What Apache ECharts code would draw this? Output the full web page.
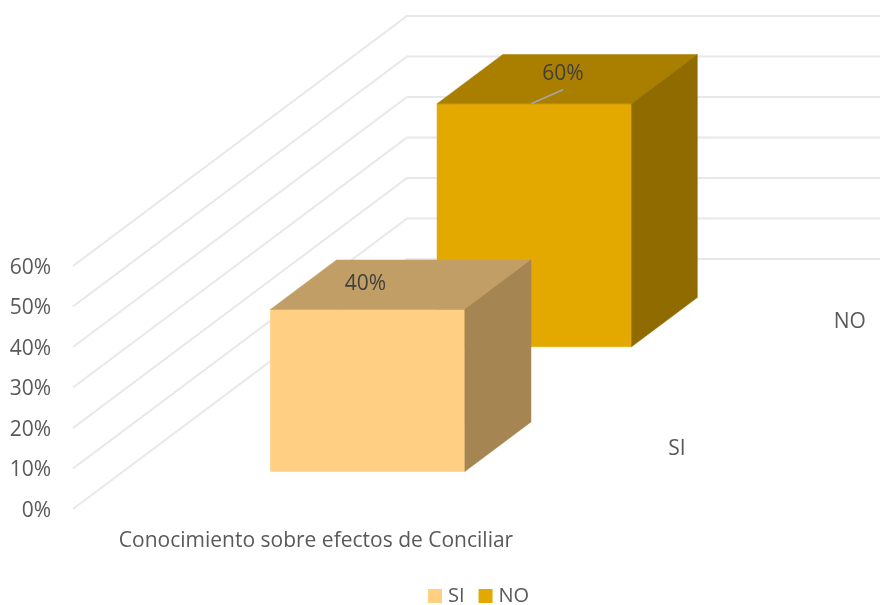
<!DOCTYPE html>
<html>
<head>
<meta charset="utf-8">
<style>html,body{margin:0;padding:0;background:#fff}#c{width:880px;height:605px}</style>
<script src="https://cdn.jsdelivr.net/npm/echarts@6/dist/echarts.min.js"></script>
</head>
<body>
<div id="c"></div>
<script>
const categories = ['Conocimiento sobre efectos de Conciliar'];
const seriesNames = ['SI', 'NO'];
const valuesSI = [40];
const valuesNO = [60];
const yTicks = [0, 10, 20, 30, 40, 50, 60];

// Oblique projection of the depth axis
const DEPTH_DX = 334, DEPTH_DY = -250;
const BAR_W = 194.5, BAR_SHIFT = 1.5;
const FONT = '"Open Sans", sans-serif';
const project = (p, d) => [p[0] + DEPTH_DX * d, p[1] + DEPTH_DY * d];
const poly = (points, fill) => ({type: 'polygon', shape: {points}, style: {fill, stroke: fill, lineWidth: 0.5}});

function barRenderer(cfg) {
  return function (params, api) {
    const v = api.value(1);
    const base = api.coord([api.value(0), 0]);
    const top = api.coord([api.value(0), v]);
    const cx = base[0] + BAR_SHIFT;
    const xl = cx - BAR_W / 2, xr = cx + BAR_W / 2;
    const f = cfg.front, b = cfg.back;
    const ftl = project([xl, top[1]], f), ftr = project([xr, top[1]], f);
    const fbl = project([xl, base[1]], f), fbr = project([xr, base[1]], f);
    const btl = project([xl, top[1]], b), btr = project([xr, top[1]], b);
    const bbr = project([xr, base[1]], b);
    const children = [
      poly([ftl, ftr, fbr, fbl], cfg.colors[0]),
      poly([ftl, ftr, btr, btl], cfg.colors[1]),
      poly([ftr, btr, bbr, fbr], cfg.colors[2])
    ];
    const lx = ftl[0] + cfg.labelDX, ly = ftl[1] + cfg.labelDY;
    if (cfg.leader) {
      children.push({type: 'line', shape: {x1: ftl[0] + 94, y1: ftl[1], x2: ftl[0] + 126, y2: ftl[1] - 14},
        style: {stroke: '#A6A6A6', lineWidth: 1.5}});
    }
    children.push({type: 'text', style: {text: v + '%', x: lx, y: ly, fill: '#404040', font: '21px ' + FONT, align: 'center', verticalAlign: 'middle'}});
    // depth-axis label on the right of the floor
    const floor = project([base[0] + 243 + 26, base[1]], (f + b) / 2);
    children.push({type: 'text', style: {text: cfg.name, x: floor[0] + cfg.nameDX, y: floor[1] + cfg.nameDY, fill: '#595959', font: '21px ' + FONT, align: 'left', verticalAlign: 'middle'}});
    return {type: 'group', children};
  };
}

function gridRenderer(params, api) {
  const p = api.coord([0, api.value(0)]);
  const x0 = 73;
  const a = [x0, p[1]];
  const corner = [x0 + DEPTH_DX, p[1] + DEPTH_DY];
  const end = [880, corner[1]];
  return {type: 'polyline', shape: {points: [a, corner, end]}, style: {fill: null, stroke: '#E8E8E8', lineWidth: 2}};
}

const chart = echarts.init(document.getElementById('c'), null, {renderer: 'canvas'});
chart.setOption({
  animation: false,
  backgroundColor: '#fff',
  legend: {
    data: seriesNames.map(n => ({name: n, icon: 'rect'})), left: 428, top: 586, padding: 0, itemWidth: 14, itemHeight: 14, itemGap: 14,
    textStyle: {color: '#595959', fontFamily: FONT, fontSize: 20, lineHeight: 14, padding: [0, 0, 0, 1]}
  },
  grid: {left: 73, top: 266, width: 486, height: 243},
  xAxis: {
    type: 'category', data: categories,
    axisLine: {show: false}, axisTick: {show: false},
    axisLabel: {color: '#595959', fontFamily: FONT, fontSize: 21, margin: 22}
  },
  yAxis: {
    type: 'value', min: 0, max: 60, interval: 10,
    axisLine: {show: false}, axisTick: {show: false}, splitLine: {show: false},
    axisLabel: {color: '#595959', fontFamily: FONT, fontSize: 21, margin: 22, verticalAlign: 'top', lineHeight: 4, formatter: '{value}%'}
  },
  series: [
    {type: 'custom', name: 'walls', silent: true, z: 1, data: yTicks.map(t => [t]), encode: {y: 0}, renderItem: gridRenderer},
    {type: 'custom', name: seriesNames[1], z: 2, itemStyle: {color: '#E3A900'}, data: valuesNO.map((v, i) => [i, v]), encode: {x: 0, y: 1},
      renderItem: barRenderer({name: seriesNames[1], front: 0.649, back: 0.846, nameDX: -1, nameDY: 0, colors: ['#E3A900', '#AA7F00', '#8F6B00'], labelDX: 126, labelDY: -30, leader: true})},
    {type: 'custom', name: seriesNames[0], z: 3, itemStyle: {color: '#FFCF83'}, data: valuesSI.map((v, i) => [i, v]), encode: {x: 0, y: 1},
      renderItem: barRenderer({name: seriesNames[0], front: 0.15, back: 0.348, nameDX: 0, nameDY: 2, colors: ['#FFCF83', '#C19E65', '#A58552'], labelDX: 95, labelDY: -25})}
  ]
});
</script>
</body>
</html>
